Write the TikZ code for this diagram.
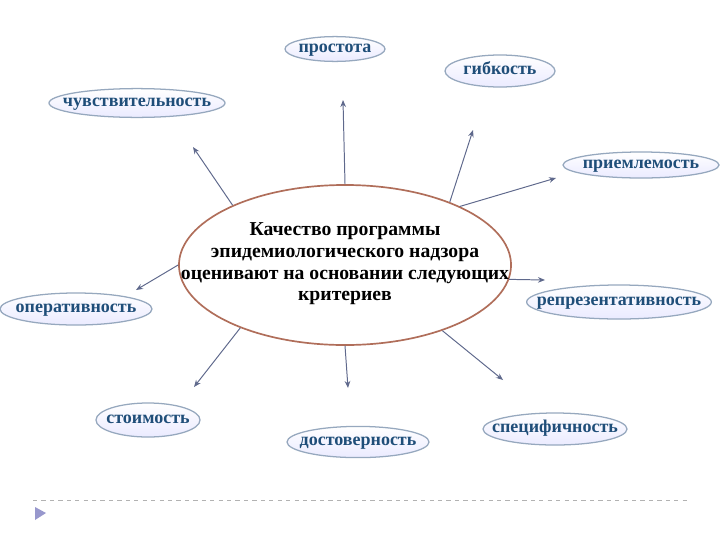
\documentclass[tikz,border=0pt]{standalone}
\usepackage{fontspec}
\setmainfont{Liberation Serif}
\usetikzlibrary{arrows.meta,shapes.geometric}
\definecolor{labelblue}{RGB}{31,78,121}
\definecolor{rimgray}{RGB}{150,168,190}
\definecolor{rimbrown}{RGB}{176,110,90}
\definecolor{arrowgray}{RGB}{95,105,140}

\begin{document}
\begin{tikzpicture}[x=0.025cm,y=-0.025cm,
	crit/.style={ellipse,draw=rimgray,line width=0.9pt,top color=white,bottom color=blue!8,
		inner xsep=-0.42cm,inner ysep=0pt,text height=1ex,text depth=0pt,
		text=labelblue,font=\fontsize{12.8}{14}\selectfont\bfseries},
	arr/.style={draw=arrowgray,line width=0.7pt,-{Stealth[length=5pt,width=4pt]}}]
	\useasboundingbox (0,0) rectangle (720,540);

	%CENTRE
	\node[ellipse,draw=rimbrown,line width=1.2pt,fill=white,minimum width=8.3cm,minimum height=4cm] (c) at (345,265) {};
	\node[align=center,font=\fontsize{14}{15.4}\selectfont\bfseries] (ct) at (345,264)
		{Качество программы\\эпидемиологического надзора\\оценивают на основании следующих\\критериев};

	%CRITERIA
	\node[crit,minimum width=2.5cm,minimum height=0.62cm]  (prost) at (335,49)  {простота};
	\node[crit,minimum width=2.75cm,minimum height=0.8cm]  (gib)   at (500,71)  {гибкость};
	\node[crit,minimum width=4.4cm,minimum height=0.72cm]  (chuv)  at (137,103) {чувствительность};
	\node[crit,minimum width=3.9cm,minimum height=0.65cm]  (priem) at (641,165) {приемлемость};
	\node[crit,minimum width=3.8cm,minimum height=0.8cm]   (oper)  at (76,309)  {оперативность};
	\node[crit,minimum width=4.3cm,minimum height=0.85cm]  (repr)  at (619,302) {репрезентативность};
	\node[crit,minimum width=2.6cm,minimum height=0.85cm]  (stoim) at (148,420) {стоимость};
	\node[crit,minimum width=3.55cm,minimum height=0.78cm] (dost)  at (358,442) {достоверность};
	\node[crit,minimum width=3.6cm,minimum height=0.8cm]   (spec)  at (555,429) {специфичность};

	%ARROW ENDS
	\coordinate (tprost) at (343,100);
	\coordinate (tgib)   at (473,130);
	\coordinate (tchuv)  at (193,147);
	\coordinate (tpriem) at (556,178);
	\coordinate (toper)  at (136,290);
	\coordinate (trepr)  at (545,280);
	\coordinate (tstoim) at (194,387);
	\coordinate (tdost)  at (348,388);
	\coordinate (tspec)  at (503,380);
	\foreach \a/\t in {90/tprost,31/tgib,152/tchuv,27/tpriem,180/toper,355/trepr,211/tstoim,270/tdost,326/tspec}
		\draw[arr] (c.\a) -- (\t);

	%FOOTER
	\coordinate (fl) at (33,500);
	\coordinate (fr) at (690,500);
	\draw[gray!60,dashed,line width=0.6pt] (fl) -- (fr);
	\fill[blue!35!gray!60] (35,507) -- (46,513) -- (35,520) -- cycle;
\end{tikzpicture}
\end{document}
